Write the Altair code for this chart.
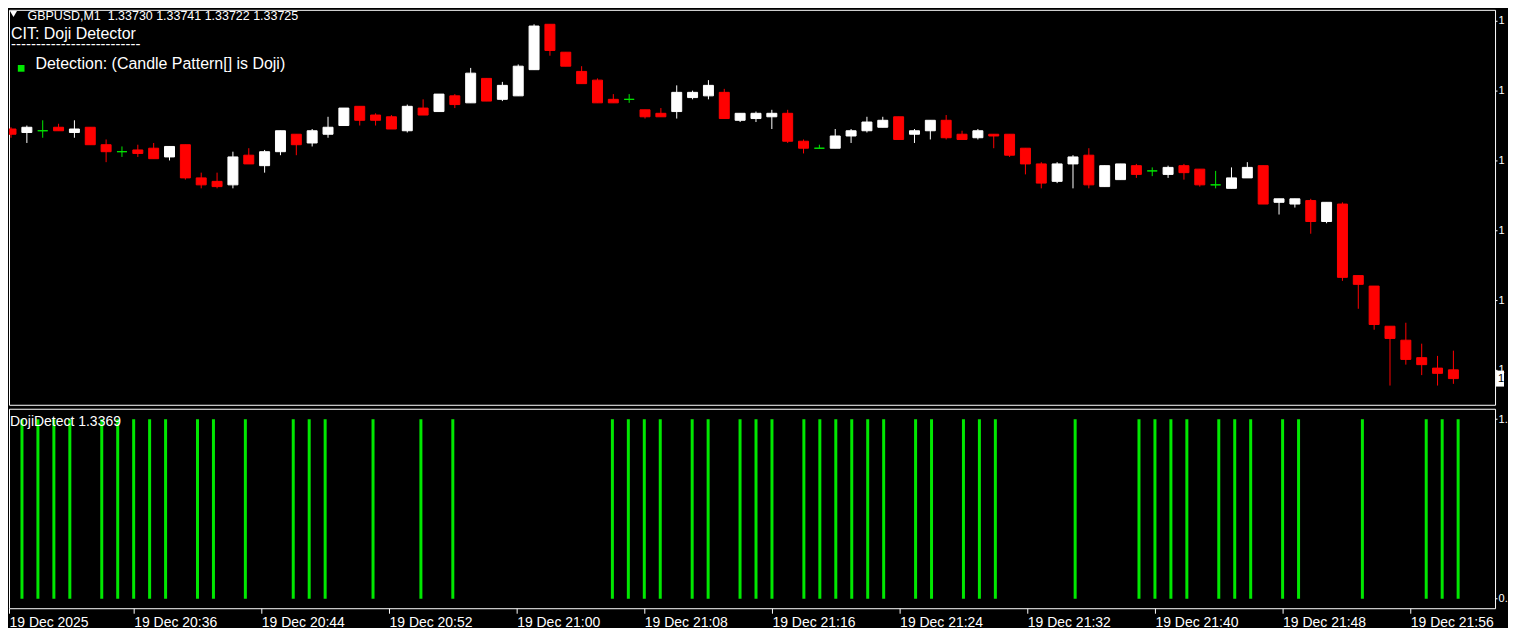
import altair as alt
import pandas as pd

# ---------------- data ----------------
time_labels = ["19 Dec 2025", "19 Dec 20:36", "19 Dec 20:44", "19 Dec 20:52",
               "19 Dec 21:00", "19 Dec 21:08", "19 Dec 21:16", "19 Dec 21:24",
               "19 Dec 21:32", "19 Dec 21:40", "19 Dec 21:48", "19 Dec 21:56"]
label_every = 8

opens = [1.33868, 1.33866, 1.33867, 1.33869, 1.33866, 1.33869, 1.33859, 1.33855, 1.33856, 1.33857,
         1.33852, 1.33859, 1.33840, 1.33838, 1.33836, 1.33853, 1.33847, 1.33855, 1.33865, 1.33860,
         1.33865, 1.33870, 1.33881, 1.33876, 1.33875, 1.33867, 1.33880, 1.33878, 1.33887, 1.33883,
         1.33897, 1.33885, 1.33887, 1.33902, 1.33928, 1.33912, 1.33901, 1.33896, 1.33885, 1.33885,
         1.33879, 1.33877, 1.33878, 1.33886, 1.33887, 1.33889, 1.33873, 1.33874, 1.33875, 1.33877,
         1.33861, 1.33857, 1.33857, 1.33864, 1.33867, 1.33869, 1.33875, 1.33865, 1.33867, 1.33873,
         1.33865, 1.33863, 1.33865, 1.33865, 1.33857, 1.33848, 1.33838, 1.33848, 1.33853, 1.33835,
         1.33839, 1.33847, 1.33844, 1.33842, 1.33847, 1.33845, 1.33836, 1.33834, 1.33840, 1.33847,
         1.33826, 1.33825, 1.33827, 1.33815, 1.33825, 1.33784, 1.33778, 1.33755, 1.33747, 1.33737,
         1.33731, 1.33730]
highs = [1.33869, 1.33870, 1.33873, 1.33871, 1.33873, 1.33869, 1.33862, 1.33858, 1.33859, 1.33860,
         1.33858, 1.33859, 1.33843, 1.33843, 1.33855, 1.33857, 1.33856, 1.33867, 1.33865, 1.33868,
         1.33875, 1.33880, 1.33881, 1.33877, 1.33876, 1.33882, 1.33885, 1.33888, 1.33888, 1.33903,
         1.33897, 1.33895, 1.33905, 1.33928, 1.33928, 1.33912, 1.33904, 1.33897, 1.33888, 1.33888,
         1.33879, 1.33880, 1.33893, 1.33890, 1.33896, 1.33891, 1.33877, 1.33878, 1.33879, 1.33879,
         1.33862, 1.33859, 1.33868, 1.33868, 1.33875, 1.33875, 1.33875, 1.33868, 1.33873, 1.33876,
         1.33867, 1.33868, 1.33865, 1.33865, 1.33857, 1.33849, 1.33849, 1.33853, 1.33857, 1.33847,
         1.33848, 1.33848, 1.33846, 1.33847, 1.33848, 1.33845, 1.33844, 1.33846, 1.33849, 1.33847,
         1.33828, 1.33828, 1.33828, 1.33826, 1.33826, 1.33784, 1.33778, 1.33755, 1.33757, 1.33745,
         1.33738, 1.33741]
lows = [1.33863, 1.33860, 1.33863, 1.33867, 1.33863, 1.33859, 1.33849, 1.33852, 1.33852, 1.33851,
        1.33850, 1.33839, 1.33834, 1.33834, 1.33834, 1.33848, 1.33843, 1.33853, 1.33853, 1.33858,
        1.33863, 1.33870, 1.33870, 1.33870, 1.33868, 1.33866, 1.33876, 1.33878, 1.33880, 1.33883,
        1.33884, 1.33884, 1.33887, 1.33902, 1.33910, 1.33904, 1.33894, 1.33883, 1.33883, 1.33883,
        1.33874, 1.33875, 1.33874, 1.33885, 1.33885, 1.33874, 1.33872, 1.33872, 1.33868, 1.33860,
        1.33854, 1.33857, 1.33857, 1.33860, 1.33866, 1.33869, 1.33862, 1.33860, 1.33862, 1.33862,
        1.33862, 1.33862, 1.33857, 1.33852, 1.33842, 1.33834, 1.33837, 1.33834, 1.33834, 1.33835,
        1.33839, 1.33840, 1.33841, 1.33840, 1.33839, 1.33835, 1.33834, 1.33834, 1.33840, 1.33825,
        1.33819, 1.33823, 1.33808, 1.33814, 1.33781, 1.33765, 1.33753, 1.33721, 1.33733, 1.33727,
        1.33721, 1.33722]
closes = [1.33865, 1.33869, 1.33867, 1.33867, 1.33868, 1.33859, 1.33855, 1.33855, 1.33854, 1.33851,
          1.33858, 1.33840, 1.33836, 1.33835, 1.33852, 1.33848, 1.33855, 1.33867, 1.33859, 1.33867,
          1.33869, 1.33880, 1.33873, 1.33873, 1.33868, 1.33881, 1.33876, 1.33888, 1.33882, 1.33900,
          1.33884, 1.33893, 1.33904, 1.33927, 1.33913, 1.33904, 1.33894, 1.33883, 1.33883, 1.33885,
          1.33875, 1.33875, 1.33889, 1.33889, 1.33893, 1.33874, 1.33877, 1.33877, 1.33877, 1.33861,
          1.33857, 1.33857, 1.33864, 1.33867, 1.33872, 1.33873, 1.33862, 1.33867, 1.33873, 1.33863,
          1.33862, 1.33867, 1.33864, 1.33853, 1.33848, 1.33837, 1.33848, 1.33852, 1.33836, 1.33847,
          1.33848, 1.33842, 1.33844, 1.33846, 1.33843, 1.33836, 1.33836, 1.33840, 1.33846, 1.33825,
          1.33828, 1.33828, 1.33815, 1.33826, 1.33783, 1.33779, 1.33756, 1.33748, 1.33736, 1.33733,
          1.33728, 1.33725]

# bars where the indicator flags a doji (value 1)
doji_signal = [0, 1, 2, 3, 4, 6, 7, 8, 9, 10, 12, 13, 15, 18, 19, 20, 23, 26, 28,
               38, 39, 40, 41, 43, 44, 46, 47, 48, 50, 51, 52, 53, 54, 55, 57, 58,
               60, 61, 62, 67, 71, 72, 73, 74, 76, 77, 78, 80, 81, 85, 89, 90, 91]

price_ticks = [1.3373, 1.3377, 1.3381, 1.3385, 1.3389, 1.3393]
last_price = 1.33725
header_text = "GBPUSD,M1\u00a0\u00a01.33730 1.33741 1.33722 1.33725"
title_text = "CIT: Doji Detector"
rule_text = "-" * 26
legend_text = "Detection: (Candle Pattern[] is Doji)"
indicator_text = "DojiDetect 1.3369"

# ---------------- styling ----------------
GREEN = "#00e800"
RED = "#ff0000"
WHITE = "#ffffff"
FONT = "Liberation Sans"
W = 1490
H1 = 396
H2 = 200
X0 = 0.1875          # first visible bar position at the left edge of the plot
X1 = 93.3125

candles = pd.DataFrame({"k": list(range(len(opens))), "open": opens, "high": highs,
                        "low": lows, "close": closes})
candles["kind"] = ["doji" if c == o else ("up" if c > o else "down")
                   for o, c in zip(opens, closes)]

signals = pd.DataFrame({"k": doji_signal, "one": [1] * len(doji_signal),
                        "zero": [0] * len(doji_signal)})

x_scale = alt.Scale(domain=[X0, X1], nice=False, zero=False)
p_scale = alt.Scale(domain=[1.3371, 1.33936286], nice=False, zero=False)
i_scale = alt.Scale(domain=[-0.0528, 1.0583], nice=False, zero=False)
col_scale = alt.Scale(domain=["up", "down", "doji"], range=[WHITE, RED, GREEN])

X = alt.X("k:Q", scale=x_scale, axis=None)

base = alt.Chart(candles)
wicks = base.mark_rule(strokeWidth=1, clip=True).encode(
    x=X,
    y=alt.Y("low:Q", scale=p_scale,
            axis=alt.Axis(orient="right", values=price_ticks, tickSize=2, labelPadding=1,
                          labelFontSize=11,
                          labelExpr="substring(datum.label, 0, 1)", title=None)),
    y2="high:Q",
    color=alt.Color("kind:N", scale=col_scale, legend=None),
)
bodies = base.mark_bar(size=10, strokeWidth=1, clip=True).encode(
    x=X,
    y=alt.Y("open:Q", scale=p_scale),
    y2="close:Q",
    color=alt.Color("kind:N", scale=col_scale, legend=None),
    stroke=alt.Stroke("kind:N", scale=col_scale, legend=None),
)


def label(txt, x, y, size, color=WHITE, font=FONT):
    return alt.Chart(pd.DataFrame({"t": [txt]})).mark_text(
        align="left", baseline="alphabetic", font=font, fontSize=size, color=color
    ).encode(text="t:N", x=alt.value(x), y=alt.value(y))


tri = alt.Chart(pd.DataFrame({"t": ["menu"]})).mark_point(
    shape="triangle-down", filled=True, size=50, color=WHITE, opacity=1
).encode(x=alt.value(4.5), y=alt.value(4.2))
square = alt.Chart(pd.DataFrame({"t": ["legend"]})).mark_point(
    shape="square", filled=True, size=45, color=GREEN, opacity=1
).encode(x=alt.value(12.2), y=alt.value(58.7))

price_df = pd.DataFrame({"price": [last_price]})
bid_box = alt.Chart(price_df).mark_point(
    shape="M-0.5,-1H0.5V1H-0.5Z", filled=True, size=256, color=WHITE, opacity=1
).encode(x=alt.value(1495), y=alt.Y("price:Q", scale=p_scale))
bid_txt = alt.Chart(price_df).transform_calculate(
    lbl="substring(format(datum.price, '.5f'), 0, 1)"
).mark_text(align="left", baseline="middle", font=FONT, fontSize=11, color="#000000").encode(
    x=alt.value(1493), y=alt.Y("price:Q", scale=p_scale), text="lbl:N")

main = alt.layer(
    wicks, bodies, tri,
    label(header_text, 18.5, 9.8, 12.5),
    label(title_text, 2, 28.8, 16),
    label(rule_text, 2, 39, 15),
    square,
    label(legend_text, 26.5, 59.3, 16),
    bid_box, bid_txt,
).properties(width=W, height=H1)

# the first time label sits at the left edge of the plot; the rest every 8 bars
label_expr = ("[" + ",".join("'%s'" % s for s in time_labels) + "][round(datum.value / %d)]"
              % label_every)
tick_vals = [X0] + [i * label_every for i in range(1, len(time_labels))]

bars = alt.Chart(signals).mark_rule(strokeWidth=3, color=GREEN, clip=True).encode(
    x=alt.X("k:Q", scale=x_scale,
            axis=alt.Axis(orient="bottom", values=tick_vals, labelExpr=label_expr,
                          labelAlign="left", labelBaseline="top", labelFontSize=14,
                          tickSize=5, labelPadding=2, labelOverlap=False, title=None)),
    y=alt.Y("one:Q", scale=i_scale,
            axis=alt.Axis(orient="right", values=[0, 1], tickSize=2, labelPadding=1,
                          labelFontSize=11,
                          labelExpr="substring(format(datum.value, '.4f'), 0, 2)",
                          title=None)),
    y2="zero:Q",
)

lower = alt.layer(bars, label(indicator_text, 1, 17, 14)).properties(width=W, height=H2)

chart = alt.vconcat(main, lower, spacing=2).properties(
    padding={"left": 0, "top": 0, "right": 0, "bottom": 0},
    background="#000000",
).configure_view(
    stroke=WHITE, strokeWidth=1, fill="#000000"
).configure_axis(
    labelColor=WHITE, tickColor=WHITE, domain=False, grid=False,
    labelFont=FONT, labelFontSize=13,
)

chart.save("out.html", embed_options={"renderer": "svg", "actions": False})
